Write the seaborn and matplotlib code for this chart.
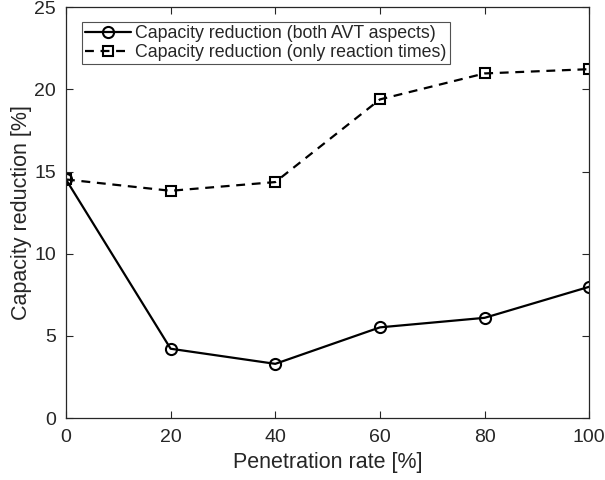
import matplotlib
matplotlib.use("Agg")
import matplotlib.pyplot as plt
import seaborn as sns
import pandas as pd

penetration = [0, 20, 40, 60, 80, 100]
both_aspects = [14.52, 4.22, 3.30, 5.52, 6.10, 7.99]
reaction_only = [14.52, 13.83, 14.36, 19.39, 20.97, 21.23]
x_ticks = [0, 20, 40, 60, 80, 100]
y_ticks = [0, 5, 10, 15, 20, 25]

label_both = "Capacity reduction (both AVT aspects)"
label_react = "Capacity reduction (only reaction times)"

sns.set_theme(style="ticks")
plt.rcParams["font.family"] = ["Liberation Sans", "DejaVu Sans"]

df = pd.DataFrame({
    "Penetration": penetration * 2,
    "Reduction": both_aspects + reaction_only,
    "Series": [label_both] * len(penetration) + [label_react] * len(penetration),
})

fig = plt.figure(figsize=(6.05, 4.8), dpi=100)
ax = fig.add_axes([0.109, 0.129, 0.865, 0.856])

sns.lineplot(data=df[df.Series == label_both], x="Penetration", y="Reduction",
             ax=ax, color="black", linewidth=1.6, marker="o", markersize=8,
             markerfacecolor="none", markeredgecolor="black", markeredgewidth=1.5,
             label=label_both)
sns.lineplot(data=df[df.Series == label_react], x="Penetration", y="Reduction",
             ax=ax, color="black", linewidth=1.6, linestyle=(0, (4, 3)), marker="s",
             markersize=6.5, markerfacecolor="none", markeredgecolor="black",
             markeredgewidth=1.5, label=label_react)

ax.set_xlim(0, 100)
ax.set_ylim(0, 25)
ax.set_xticks(x_ticks)
ax.set_yticks(y_ticks)
ax.tick_params(direction="in", length=5, width=0.8, top=True, right=True,
               labelsize=14, colors="#262626")
ax.tick_params(axis="x", pad=8)
ax.tick_params(axis="y", pad=7)
for s in ax.spines.values():
    s.set_linewidth(0.9)
    s.set_color("#262626")
ax.set_xlabel("Penetration rate [%]", fontsize=15.5, color="#262626")
ax.set_ylabel("Capacity reduction [%]", fontsize=15.5, color="#262626")
ax.xaxis.set_label_coords(0.5, -0.082)
ax.yaxis.set_label_coords(-0.065, 0.5)

leg = ax.legend(loc="upper left", bbox_to_anchor=(0.03, 0.965), fontsize=12.8,
                frameon=True, fancybox=False, edgecolor="#262626",
                handlelength=2.6, handletextpad=0.2, borderpad=0.2,
                labelspacing=0.1, borderaxespad=0)
leg.get_frame().set_linewidth(0.8)

fig.savefig("out.png", dpi=100)
